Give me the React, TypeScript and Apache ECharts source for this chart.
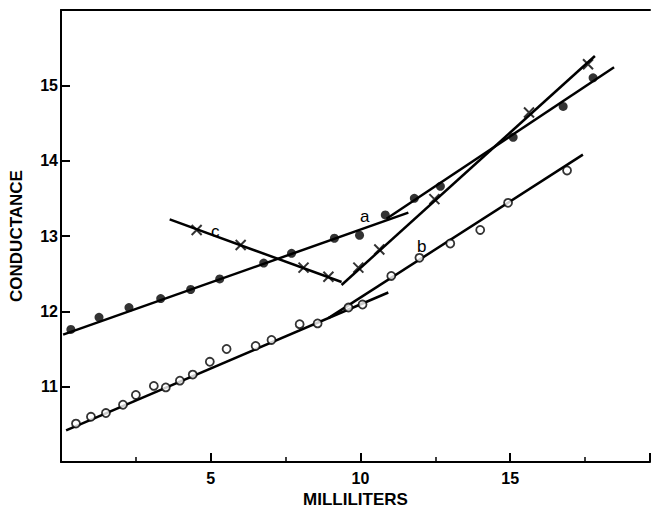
import React, { useEffect, useRef } from "react";
import * as echarts from "echarts";

// Curve a (filled circles)
const aX = [0.33, 1.27, 2.27, 3.33, 4.33, 5.3, 6.77, 7.7, 9.13, 9.97, 10.83, 11.8, 12.67, 15.1, 16.77, 17.77];
const aY = [11.76, 11.92, 12.05, 12.17, 12.29, 12.43, 12.64, 12.77, 12.97, 13.01, 13.28, 13.5, 13.66, 14.31, 14.72, 15.1];
// Curve b (open circles)
const bX = [0.5, 1.0, 1.5, 2.07, 2.5, 3.1, 3.5, 3.97, 4.4, 4.97, 5.53, 6.5, 7.03, 7.97, 8.57, 9.6, 10.07, 11.03, 11.97, 13.0, 14.0, 14.93, 16.9];
const bY = [10.51, 10.6, 10.65, 10.76, 10.89, 11.01, 10.99, 11.08, 11.16, 11.33, 11.5, 11.54, 11.62, 11.83, 11.84, 12.05, 12.09, 12.47, 12.71, 12.9, 13.08, 13.44, 13.87];
// Curve c (crosses)
const cX = [4.53, 6.0, 8.1, 8.93, 9.93, 10.63, 12.47, 15.63, 17.6];
const cY = [13.08, 12.88, 12.58, 12.46, 12.58, 12.82, 13.49, 14.64, 15.28];

// Straight-line fits (end points)
const aLowFit = [[0.07, 11.69], [11.6, 13.31]];
const aHighFit = [[10.87, 13.23], [18.47, 15.24]];
const bLowFit = [[0.17, 10.42], [10.93, 12.25]];
const bHighFit = [[8.93, 11.91], [17.43, 14.08]];
const cFallFit = [[3.63, 13.22], [9.37, 12.39]];
const cRiseFit = [[9.37, 12.35], [17.83, 15.39]];

const xTickLabels = ["5", "10", "15"];
const yTickLabels = ["11", "12", "13", "14", "15"];

const FONT = "'Liberation Sans', Arial, sans-serif";

const zip = (xs: number[], ys: number[]) => xs.map((x, i) => [x, ys[i]]);

export default function App() {
  const ref = useRef<HTMLDivElement>(null);
  useEffect(() => {
    if (!ref.current) return;
    const chart = echarts.init(ref.current, null, { renderer: "svg" });
    const fitLine = (d: number[][]) => ({
      type: "line",
      data: d,
      showSymbol: false,
      symbol: "none",
      lineStyle: { color: "#000", width: 2.5 },
      silent: true,
      z: 2,
    });
    chart.setOption({
      animation: false,
      backgroundColor: "#fff",
      grid: { left: 60, top: 10, width: 590, height: 460, containLabel: false },
      xAxis: [
        {
          type: "value",
          min: 0,
          max: 19.67,
          interval: 5,
          name: "MILLILITERS",
          nameLocation: "middle",
          nameGap: 29,
          nameTextStyle: { fontFamily: FONT, fontSize: 17, fontWeight: "bold", color: "#000" },
          axisLine: { show: true, lineStyle: { color: "#000", width: 2 } },
          axisTick: { show: true, inside: true, length: 9, lineStyle: { color: "#000", width: 2 } },
          minorTick: { show: true, splitNumber: 2, length: 5, lineStyle: { color: "#000", width: 1.5 } },
          splitLine: { show: false },
          axisLabel: {
            showMaxLabel: false,
            showMinLabel: false,
            margin: 8,
            fontFamily: FONT,
            fontSize: 16,
            fontWeight: "bold",
            color: "#000",
            formatter: (v: number) => (xTickLabels.includes(String(v)) ? String(v) : ""),
          },
        },
        {
          type: "value",
          position: "top",
          min: 0,
          max: 19.67,
          axisLine: { show: true, lineStyle: { color: "#000", width: 2 } },
          axisTick: { show: false },
          axisLabel: { show: false },
          splitLine: { show: false },
        },
      ],
      yAxis: {
        type: "value",
        min: 10,
        max: 16,
        interval: 1,
        name: "CONDUCTANCE",
        nameLocation: "middle",
        nameGap: 36,
        nameRotate: 90,
        nameTextStyle: { fontFamily: FONT, fontSize: 17, fontWeight: "bold", color: "#000" },
        axisLine: { show: true, lineStyle: { color: "#000", width: 2 } },
        axisTick: { show: true, inside: true, length: 9, lineStyle: { color: "#000", width: 2 } },
        splitLine: { show: false },
        axisLabel: {
          margin: 3,
          fontFamily: FONT,
          fontSize: 16,
          fontWeight: "bold",
          color: "#000",
          formatter: (v: number) => (yTickLabels.includes(String(v)) ? String(v) : ""),
        },
      },
      series: [
        fitLine(aLowFit),
        fitLine(aHighFit),
        fitLine(bLowFit),
        fitLine(bHighFit),
        fitLine(cFallFit),
        fitLine(cRiseFit),
        {
          type: "scatter",
          name: "a",
          data: zip(aX, aY),
          symbol: "circle",
          symbolSize: 9,
          itemStyle: { color: "#000" },
          z: 3,
        },
        {
          type: "scatter",
          name: "b",
          data: zip(bX, bY),
          symbol: "circle",
          symbolSize: 8,
          itemStyle: { color: "#fff", borderColor: "#000", borderWidth: 1.8 },
          z: 3,
        },
        {
          type: "scatter",
          name: "c",
          data: zip(cX, cY),
          symbol: "path://M0,0L10,10M10,0L0,10",
          symbolSize: 10,
          itemStyle: { color: "none", borderColor: "#000", borderWidth: 2 },
          z: 3,
        },
      ],
      graphic: [
        { type: "text", left: 360, top: 208, style: { text: "a", font: `17px ${FONT}`, fill: "#000" } },
        { type: "text", left: 417, top: 238, style: { text: "b", font: `17px ${FONT}`, fill: "#000" } },
        { type: "text", left: 211, top: 223, style: { text: "c", font: `17px ${FONT}`, fill: "#000" } },
      ],
    });
    return () => chart.dispose();
  }, []);
  return (
    <div
      ref={ref}
      style={{ position: "fixed", left: 0, top: 0, width: 652, height: 513, background: "#fff" }}
    />
  );
}
